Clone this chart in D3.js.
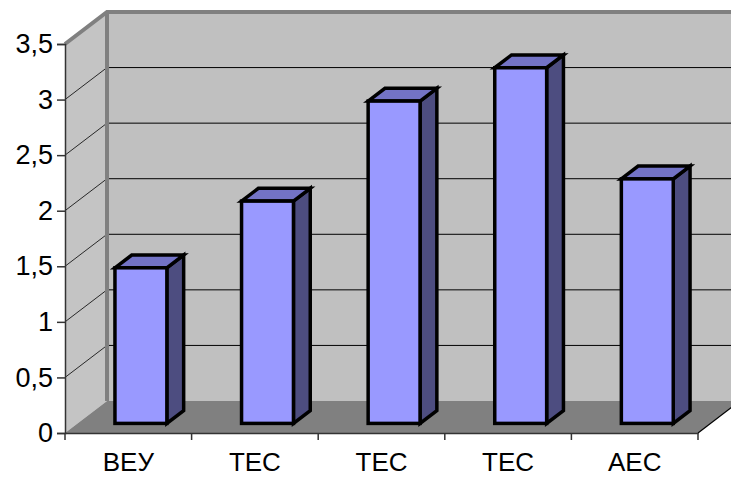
<!DOCTYPE html>
<html>
<head>
<meta charset="utf-8">
<script src="https://cdn.jsdelivr.net/npm/d3@7"></script>
<style>
  html, body { margin: 0; padding: 0; background: #fff; }
  svg { display: block; }
  text { font-family: "Liberation Sans", Arial, sans-serif; fill: #000; }
</style>
</head>
<body>
<svg id="chart" width="731" height="477"></svg>
<script>
// Plant types and their values
const categories = ["ВЕУ", "ТЕС", "ТЕС", "ТЕС", "АЕС"];
const values = [1.4, 2.0, 2.9, 3.2, 2.2];
const yTicks = [0, 0.5, 1, 1.5, 2, 2.5, 3, 3.5];

const W = 731, H = 477;
const plotLeft = 65, plotRight = 698, plotBottom = 433, plotTop = 44;
const DX = 42, DY = 32;          // depth offset of the back wall
const depth0 = 0.3, depth1 = 0.7; // bar placement inside the depth
const barFrac = 0.41;

const svg = d3.select("#chart");

const x = d3.scaleBand().domain(d3.range(categories.length)).range([plotLeft, plotRight]);
const y = d3.scaleLinear().domain([0, 3.5]).range([plotBottom, plotTop]);

const wallGray = "#c0c0c0", floorGray = "#808080", borderGray = "#808080";

// Left side wall
svg.append("path")
  .attr("d", `M${plotLeft},${y(3.5)} L${plotLeft + DX},${y(3.5) - DY} L${plotLeft + DX},${y(0) - DY} L${plotLeft},${y(0)} Z`)
  .attr("fill", "#c4c4c4");

// Back wall
svg.append("rect")
  .attr("x", plotLeft + DX).attr("y", y(3.5) - DY)
  .attr("width", W - plotLeft - DX + 10).attr("height", y(0) - y(3.5))
  .attr("fill", wallGray);

// Gridlines on back wall and side wall
const grid = svg.append("g");
yTicks.filter(v => v > 0 && v < 3.5).forEach(v => {
  grid.append("line")
    .attr("x1", plotLeft + DX).attr("x2", W + 5)
    .attr("y1", y(v) - DY).attr("y2", y(v) - DY)
    .attr("stroke", "#000").attr("stroke-width", 1);
  grid.append("line")
    .attr("x1", plotLeft).attr("x2", plotLeft + DX)
    .attr("y1", y(v)).attr("y2", y(v) - DY)
    .attr("stroke", "#000").attr("stroke-width", 0.8);
});

// Floor
svg.append("path")
  .attr("d", `M${plotLeft},${y(0)} L${plotLeft + DX},${y(0) - DY} L${plotRight + DX},${y(0) - DY} L${plotRight},${y(0)} Z`)
  .attr("fill", floorGray);
svg.append("line")
  .attr("x1", plotRight).attr("y1", y(0)).attr("x2", plotRight + DX).attr("y2", y(0) - DY)
  .attr("stroke", "#000").attr("stroke-width", 1.2);

// Wall borders
svg.append("path")
  .attr("d", `M${plotLeft},${y(3.5)} L${plotLeft + DX},${y(3.5) - DY} L${W + 5},${y(3.5) - DY} M${plotLeft + DX},${y(3.5) - DY} L${plotLeft + DX},${y(0) - DY}`)
  .attr("fill", "none").attr("stroke", borderGray).attr("stroke-width", 4);

// Bars
const bars = svg.append("g");
values.forEach((v, i) => {
  const bw = x.bandwidth() * barFrac;
  const cx = x(i) + x.bandwidth() / 2 + depth0 * DX;
  const x0 = cx - bw / 2, x1 = cx + bw / 2;
  const yb = y(0) - depth0 * DY, yt = y(v) - depth0 * DY;
  const ddx = (depth1 - depth0) * DX, ddy = (depth1 - depth0) * DY;
  const g = bars.append("g")
    .attr("stroke", "#000").attr("stroke-width", 3.5).attr("stroke-linejoin", "miter");
  // side
  g.append("path")
    .attr("d", `M${x1},${yt} L${x1 + ddx},${yt - ddy} L${x1 + ddx},${yb - ddy} L${x1},${yb} Z`)
    .attr("fill", "#4d4d80");
  // top
  g.append("path")
    .attr("d", `M${x0},${yt} L${x0 + ddx},${yt - ddy} L${x1 + ddx},${yt - ddy} L${x1},${yt} Z`)
    .attr("fill", "#7373c6");
  // front
  g.append("rect")
    .attr("x", x0).attr("y", yt).attr("width", bw).attr("height", yb - yt)
    .attr("fill", "#9999ff");
});

// Y axis
const yAxis = svg.append("g")
  .attr("transform", `translate(${plotLeft},0)`)
  .call(d3.axisLeft(y).tickValues(yTicks).tickSize(8).tickPadding(4)
    .tickFormat(d => String(d).replace(".", ",")));
yAxis.select(".domain").attr("stroke", "#333").attr("stroke-width", 1.5);
yAxis.selectAll(".tick line").attr("stroke", "#333").attr("stroke-width", 1.5);
yAxis.selectAll("text").attr("font-size", 27).attr("fill", "#000")
  .attr("font-family", "Liberation Sans, Arial, sans-serif");

// X axis
const xAxis = svg.append("g")
  .attr("transform", `translate(0,${plotBottom})`)
  .call(d3.axisBottom(x).tickSize(0).tickPadding(20).tickFormat(i => categories[i]));
xAxis.select(".domain").attr("stroke", "#333").attr("stroke-width", 1.5);
xAxis.selectAll("text").attr("font-size", 26).attr("fill", "#000")
  .attr("font-family", "Liberation Sans, Arial, sans-serif");
// category boundary ticks
xAxis.selectAll(".sep").data(d3.range(categories.length + 1)).enter().append("line")
  .attr("x1", i => plotLeft + i * x.step()).attr("x2", i => plotLeft + i * x.step())
  .attr("y1", 0).attr("y2", 7)
  .attr("stroke", "#333").attr("stroke-width", 1.5);
</script>
</body>
</html>
